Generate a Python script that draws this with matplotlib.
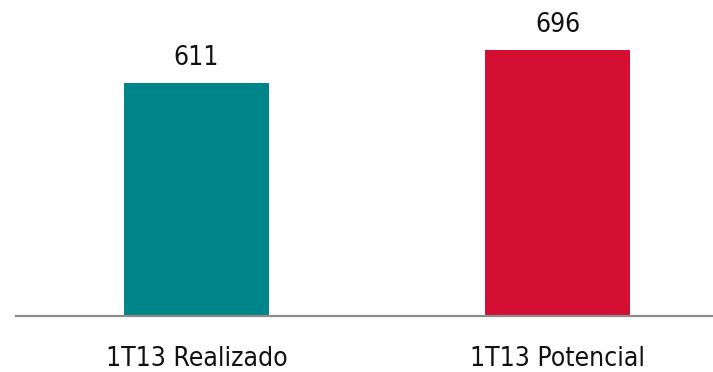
import matplotlib
matplotlib.use("Agg")
import matplotlib.pyplot as plt

categories = ["1T13 Realizado", "1T13 Potencial"]
values = [611, 696]
colors = ["#008688", "#D31034"]

plt.rcParams["font.family"] = ["DejaVu Sans"]

fig = plt.figure(figsize=(7.13, 3.72), dpi=100)
ax = fig.add_axes([16 / 713, 56 / 372, 697 / 713, 316 / 372])

x = range(len(categories))
bars = ax.bar(x, values, width=0.402, color=colors)

for b, v in zip(bars, values):
    ax.annotate(f"{v}", (b.get_x() + b.get_width() / 2, v),
                xytext=(0, 8.5), textcoords="offset points",
                ha="center", va="bottom", fontsize=19,
                fontstretch="condensed", color="#111111")

ax.set_xlim(-0.5, 1.4307)
ax.set_ylim(0, 827)
ax.set_xticks(list(x))
ax.set_xticklabels(categories, fontsize=19, fontstretch="condensed", color="#111111")
ax.tick_params(axis="x", length=0, pad=21.5)
ax.set_yticks([])
for s in ["top", "left", "right"]:
    ax.spines[s].set_visible(False)
ax.spines["bottom"].set_color("#8C8C8C")
ax.spines["bottom"].set_linewidth(1.6)

fig.savefig("out.png", dpi=100)
